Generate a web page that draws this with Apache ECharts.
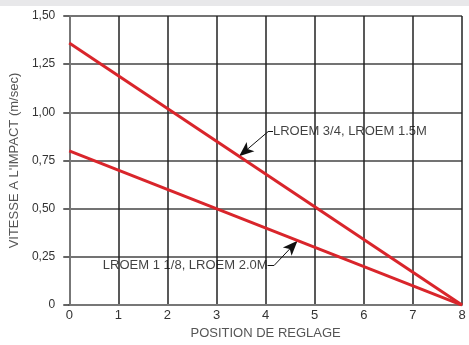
<!DOCTYPE html>
<html>
<head>
<meta charset="utf-8">
<script src="https://cdn.jsdelivr.net/npm/echarts@6/dist/echarts.min.js"></script>
<style>
  html, body { margin: 0; padding: 0; background: #fff; }
  #chart { width: 469px; height: 345px; }
</style>
</head>
<body>
<div id="chart"></div>
<script>
  // positions de reglage 0..8
  const positions = [0, 8]
  // LROEM 3/4, LROEM 1.5M
  const speedA = [1.36, 0]
  // LROEM 1 1/8, LROEM 2.0M
  const speedB = [0.80, 0]
  const yTicks = ['0', '0,25', '0,50', '0,75', '1,00', '1,25', '1,50']

  const labelA = 'LROEM 3/4, LROEM 1.5M'
  const labelB = 'LROEM 1 1/8, LROEM 2.0M'
  // annotation anchors: [text end, bend, arrow tip]
  const arrowA = [[4.15, 0.90], [4.05, 0.90], [3.46, 0.772]]
  const arrowB = [[4.04, 0.205], [4.17, 0.205], [4.65, 0.334]]

  const chart = echarts.init(document.getElementById('chart'))
  const font = 'Liberation Sans, Arial, sans-serif'

  const seg = (a, b, arrow) => [
    { coord: a, symbol: 'none' },
    { coord: b, symbol: arrow ? 'arrow' : 'none', symbolSize: arrow ? [9, 15] : 0 }
  ]

  const option = {
    animation: false,
    backgroundColor: '#fff',
    graphic: [
      { type: 'rect', left: 0, top: 0, shape: { width: 469, height: 6 }, style: { fill: '#e8e8ea' } }
    ],
    grid: { left: 67, right: 7, top: 16, bottom: 32 },
    xAxis: {
      type: 'value',
      min: 0,
      max: 8,
      interval: 1,
      name: 'POSITION DE REGLAGE',
      nameLocation: 'middle',
      nameGap: 20,
      nameTextStyle: { color: '#555', fontSize: 13, fontFamily: font },
      axisLine: { lineStyle: { color: '#777', width: 2 } },
      axisTick: { show: false },
      axisLabel: { color: '#333', fontSize: 13, fontFamily: font, margin: 4 },
      splitLine: { lineStyle: { color: '#222', width: 1.5 } }
    },
    yAxis: {
      type: 'value',
      min: 0,
      max: 1.5,
      interval: 0.25,
      name: "VITESSE A L'IMPACT (m/sec)",
      nameLocation: 'middle',
      nameGap: 44,
      nameTextStyle: { color: '#555', fontSize: 13, fontFamily: font },
      axisLine: { show: true, lineStyle: { color: '#777', width: 2 } },
      axisTick: { show: true, length: 6, lineStyle: { color: '#333', width: 1.5 } },
      axisLabel: {
        color: '#333', fontSize: 12, fontFamily: font, margin: 14,
        formatter: (v) => yTicks[Math.round(v / 0.25)]
      },
      splitLine: { lineStyle: { color: '#444', width: 1.5 } }
    },
    series: [
      {
        type: 'line',
        data: positions.map((x, i) => [x, speedA[i]]),
        symbol: 'none',
        lineStyle: { color: '#d9252b', width: 3 },
        z: 5
      },
      {
        type: 'line',
        data: positions.map((x, i) => [x, speedB[i]]),
        symbol: 'none',
        lineStyle: { color: '#d9252b', width: 3 },
        z: 5
      },
      {
        // annotation texts + arrows
        type: 'scatter',
        symbolSize: 0,
        data: [
          { value: arrowA[0], label: { show: true, formatter: labelA, position: 'right', distance: 0 } },
          { value: arrowB[0], label: { show: true, formatter: labelB, position: 'left', distance: 0 } }
        ],
        label: { color: '#111', fontSize: 13, fontFamily: font },
        z: 6,
        markLine: {
          silent: true,
          animation: false,
          label: { show: false },
          lineStyle: { color: '#111', width: 1, type: 'solid' },
          data: [
            seg(arrowA[0], arrowA[1], false),
            seg(arrowA[1], arrowA[2], true),
            seg(arrowB[0], arrowB[1], false),
            seg(arrowB[1], arrowB[2], true)
          ]
        }
      }
    ]
  }

  chart.setOption(option)
</script>
</body>
</html>
